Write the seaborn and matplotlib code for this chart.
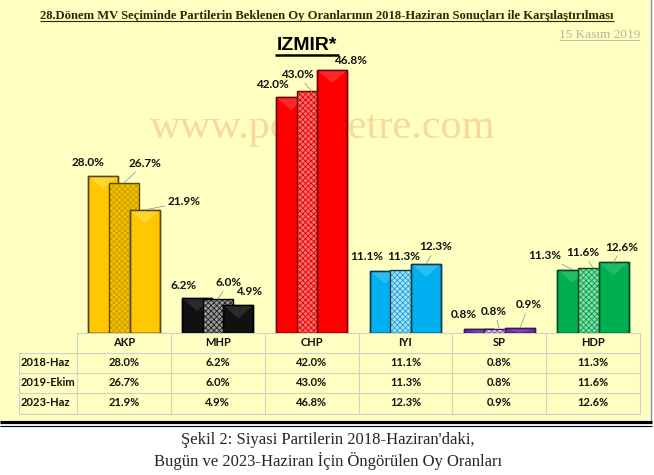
import matplotlib
matplotlib.use("Agg")
import numpy as np
import pandas as pd
import matplotlib.pyplot as plt
import seaborn as sns
from matplotlib.patches import Rectangle, Polygon

# Data
parties = ["AKP", "MHP", "CHP", "IYI", "SP", "HDP"]
periods = ["2018-Haz", "2019-Ekim", "2023-Haz"]
v2018 = [28.0, 6.2, 42.0, 11.1, 0.8, 11.3]
v2019 = [26.7, 6.0, 43.0, 11.3, 0.8, 11.6]
v2023 = [21.9, 4.9, 46.8, 12.3, 0.9, 12.6]
series = [v2018, v2019, v2023]

title = "28.Dönem MV Seçiminde Partilerin Beklenen Oy Oranlarının 2018-Haziran Sonuçları ile Karşılaştırılması"
subtitle = "IZMIR*"
date_txt = "15 Kasım 2019"
watermark = "www.pollmetre.com"
caption = ["Şekil 2: Siyasi Partilerin 2018-Haziran'daki,",
           "Bugün ve 2023-Haziran İçin Öngörülen Oy Oranları"]

# colours per party
fills = ["#FFC800", "#111111", "#FF0000", "#00B0F0", "#7030A0", "#00B050"]
mid_fills = ["#F2C200", "#9A9A9A", "#FF7070", "#A8E2F8", "#EADCF4", "#86DDAA"]
hatch_cols = ["#C89A00", "#1A1A1A", "#E00000", "#1AA0DA", "#7A4AA6", "#00A048"]
edges = ["#5A4600", "#000000", "#6A0000", "#0E3A4A", "#3A1458", "#0B4424"]
bevel_cols = ["#FFE866", "#4A4A4A", "#FF5A5A", "#5CCEF6", "#9A66C2", "#4CCB84"]

# label offsets (pixels from the bar top, up is positive) and leader flags
lab_dx = [[-15, -14, -19, -18, -15, -28],
          [21, 11, -14, -2, -5, -10],
          [40, 11, 18, 10, 9, 8]]
lab_dy = [[13, 13, 13, 14, 14, 14],
          [20, 17, 17, 13, 17, 15],
          [8, 14, 10, 17, 23, 15]]
lab_lead = [[0, 0, 0, 0, 0, 1],
            [1, 1, 1, 0, 1, 1],
            [1, 0, 0, 1, 1, 1]]

PANEL = "#FFFFC2"
W, H = 654, 475
AX_L, AX_R, BASE, TOP = 77, 640, 333, 60
offsets = [-0.22, 0.0, 0.22]

sns.set_style("white")
plt.rcParams["hatch.linewidth"] = 0.6
calib = ["Lato", "DejaVu Sans"]
serif = ["Liberation Serif", "DejaVu Serif"]

fig = plt.figure(figsize=(W / 100, H / 100), dpi=100)
fig.patch.set_facecolor("white")

# background / decoration layer in pixel coordinates
bg = fig.add_axes([0, 0, 1, 1], zorder=0)
bg.set_xlim(0, W)
bg.set_ylim(H, 0)
bg.axis("off")
bg.add_patch(Rectangle((0, 0), 650, 420, facecolor=PANEL, edgecolor="none"))
bg.plot([650.5, 650.5], [0, 420], color="#8C8C8C", lw=1)
bg.plot([0, 652], [422, 422], color="black", lw=2.3, solid_capstyle="butt")
bg.plot([0, 652], [425.5, 425.5], color="black", lw=0.8, solid_capstyle="butt")

bg.text(323, 138, watermark, family=serif, fontsize=30.5, color="#F7DA98",
        ha="center", va="baseline")


def underline(t, y, lw, color, pad=0):
    fig.canvas.draw()
    bb = t.get_window_extent()
    inv = bg.transData.inverted()
    x0 = inv.transform((bb.x0, bb.y0))[0]
    x1 = inv.transform((bb.x1, bb.y0))[0]
    bg.plot([x0 - pad, x1 + pad], [y, y], color=color, lw=lw, solid_capstyle="butt")


t = bg.text(327, 19, title, family=serif, fontsize=9.1, fontweight="bold",
            color="#302800", ha="center", va="baseline")
underline(t, 21, 0.8, "#302800")
t = bg.text(640, 38, date_txt, family=serif, fontsize=9.5, color="#B9B2A2",
            ha="right", va="baseline")
underline(t, 40, 0.6, "#B9B2A2")
t = bg.text(307, 50, subtitle, family=["Liberation Sans", "DejaVu Sans"], fontsize=14,
            fontweight="bold", color="black", ha="center", va="baseline")
underline(t, 55, 1.8, "black", pad=2)

bg.text(328, 440, caption[0], family=serif, fontsize=12, ha="center", va="center")
bg.text(328, 461, caption[1], family=serif, fontsize=12, ha="center", va="center")

# data table under the bars
col_w = (AX_R - AX_L) / len(parties)
rows_y = [333, 353, 373, 393, 414]
gcol = "#D2D2C4"
bg.plot([AX_L, AX_R], [rows_y[0]] * 2, color=gcol, lw=0.8)
for yy in rows_y[1:]:
    bg.plot([19, AX_R], [yy] * 2, color=gcol, lw=0.8)
bg.plot([19, 19], [rows_y[1], rows_y[-1]], color=gcol, lw=0.8)
for i in range(len(parties) + 1):
    xx = AX_L + i * col_w
    bg.plot([xx, xx], [rows_y[0], rows_y[-1]], color=gcol, lw=0.8)
for i, p in enumerate(parties):
    cx = AX_L + (i + 0.5) * col_w
    bg.text(cx, 343, p, family=calib, fontsize=8, fontweight="bold",
            ha="center", va="center", color="#111111")
    for k, vals in enumerate(series):
        bg.text(cx, 363 + 20 * k, f"{vals[i]:.1f}%", family=calib, fontsize=8,
                fontweight="bold", ha="center", va="center", color="#111111")
for k, per in enumerate(periods):
    bg.text(21, 363 + 20 * k, per, family=calib, fontsize=8, fontweight="bold",
            ha="left", va="center", color="#111111")

# bar layer
ax = fig.add_axes([AX_L / W, 1 - BASE / H, (AX_R - AX_L) / W, (BASE - TOP) / H], zorder=1)
ax.set_facecolor("none")
ymax = (BASE - TOP) / 5.617
px_to_y = ymax / (BASE - TOP)

rows = []
for k, per in enumerate(periods):
    for i, p in enumerate(parties):
        rows.append({"party": p, "period": per, "value": series[k][i], "pos": i + offsets[k]})
df = pd.DataFrame(rows)

for k, per in enumerate(periods):
    n0 = len(ax.patches)
    sub = df[df["period"] == per]
    sns.barplot(data=sub, x="pos", y="value", hue="party", hue_order=parties,
                palette=dict(zip(parties, mid_fills if k == 1 else fills)),
                native_scale=True, dodge=False, width=0.32, legend=False,
                errorbar=None, saturation=1, ax=ax, zorder=2 + k)
    for patch in list(ax.patches[n0:]):
        i = int(round(patch.get_x() + patch.get_width() / 2 - offsets[k]))
        patch.set_zorder(2 + k)
        x0, w, h = patch.get_x(), patch.get_width(), patch.get_height()
        if k == 1:
            patch.set_hatch("xxxxxx")
            patch.set_edgecolor(hatch_cols[i])
            patch.set_linewidth(0)
            ax.add_patch(Rectangle((x0, 0), w, h, fill=False, edgecolor=edges[i],
                                   lw=1.0, zorder=2 + k))
        else:
            patch.set_edgecolor(edges[i])
            patch.set_linewidth(1.0)
            # soft bevel highlight at the top of the bar
            d = min(13 * px_to_y, h)
            ax.add_patch(Polygon([(x0, h), (x0 + w, h), (x0 + w / 2, h - d)],
                                 closed=True, facecolor=bevel_cols[i], edgecolor="none",
                                 alpha=0.45, zorder=2 + k + 0.01))
            ax.add_patch(Rectangle((x0, 0), w, h, fill=False, edgecolor=edges[i],
                                   lw=1.0, zorder=2 + k + 0.02))

for k, vals in enumerate(series):
    for i, v in enumerate(vals):
        kw = {}
        if lab_lead[k][i]:
            kw["arrowprops"] = dict(arrowstyle="-", color="#9A9A9A", lw=0.6,
                                    shrinkA=0, shrinkB=0)
        ax.annotate(f"{v:.1f}%", xy=(i + offsets[k], v), xytext=(lab_dx[k][i], lab_dy[k][i]),
                    textcoords="offset pixels", ha="center", va="center",
                    family=calib, fontsize=8.5, fontweight="bold", color="#111111",
                    zorder=10, **kw)

ax.set_xlim(-0.5, len(parties) - 0.5)
ax.set_ylim(0, ymax)
ax.axis("off")

fig.savefig("out.png", dpi=100, facecolor=fig.get_facecolor())
